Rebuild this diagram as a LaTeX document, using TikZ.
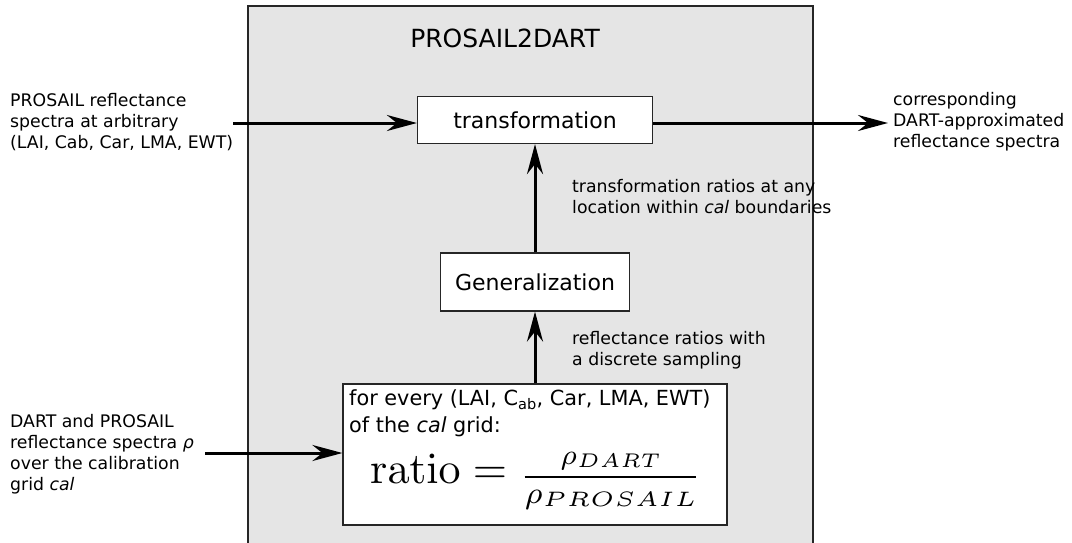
\documentclass[tikz,border=0pt]{standalone}
\usepackage[no-math]{fontspec}
\setmainfont{DejaVu Sans}
\usepackage{graphicx}
\usetikzlibrary{arrows.meta}
\newcommand\fracpart[5]{\hbox{\scalebox{#1}{$\scriptstyle\rho$}\raisebox{-0.7pt}{\scalebox{#2}[#3]{$\scriptscriptstyle #4$}}#5}}
\begin{document}
\begin{tikzpicture}[x=1pt,y=-1pt,
  box/.style={draw=black!85, line width=1.2pt, fill=white, inner sep=0pt},
  arr/.style={line width=3pt, -{Stealth[length=30pt,width=16pt,inset=10pt]}},
  lbl/.style={font=\fontsize{17.3}{21}\selectfont, align=left, anchor=west, inner sep=0pt},
  boxtxt/.style={font=\fontsize{22}{26}\selectfont},
  ]
\useasboundingbox (0,0) rectangle (1072,542);
\fill[gray!20] (248,6) rectangle (813,552);
\draw[black!85, line width=1.2pt] (248,552) -- (248,6) -- (813,6) -- (813,552);
\node (title) at (505,38) {\fontsize{25}{30}\selectfont PROSAIL2DART};
\node[box, boxtxt, minimum width=235pt, minimum height=47pt] (trans) at (535,120) {transformation};
\node[box, boxtxt, minimum width=189pt, minimum height=58pt] (gen) at (535,282) {Generalization};
\node[box, minimum width=384pt, minimum height=141pt] (ratio) at (535,454.5) {};
\node[lbl, font=\fontsize{20.8}{25}\selectfont] (rt1) at (349,400) {for every (LAI, C\textsubscript{ab}, Car, LMA, EWT)};
\node[lbl, font=\fontsize{20.8}{25}\selectfont] (rt2) at (349,427) {of the \textit{cal} grid:};
\node[anchor=base west, inner sep=0pt] (formula) at (370,483) {\scalebox{4.4}{$\mathrm{ratio} = \raisebox{-1.1pt}{$\frac{\fracpart{0.92}{0.9}{0.9}{DART}{\rule[-2.2pt]{0pt}{0pt}}}{\fracpart{1.0}{1.03}{0.95}{PROSAIL}{}}$}$}};
\coordinate (in1) at (233,123);
\coordinate (out1) at (888,123);
\coordinate (in2) at (205,453);
\draw[arr] (in1) -- (in1 -| trans.west);
\draw[arr] (out1 -| trans.east) -- (out1);
\draw[arr] (gen.north) -- (trans.south);
\draw[arr] (ratio.north) -- (gen.south);
\draw[arr] (in2) -- (in2 -| ratio.west);
\node[lbl] (inA) at (10,122) {PROSAIL reflectance\\spectra at arbitrary\\(LAI, Cab, Car, LMA, EWT)};
\node[lbl] (outA) at (893,122) {corresponding\\DART-approximated\\reflectance spectra};
\node[lbl] (l1) at (572,197) {transformation ratios at any\\location within \textit{cal} boundaries};
\node[lbl] (l2) at (572,350) {reflectance ratios with\\a discrete sampling};
\node[lbl] (inB) at (10,454) {DART and PROSAIL\\reflectance spectra \textit{ρ}\\over the calibration\\grid \textit{cal}};
\end{tikzpicture}
\end{document}
